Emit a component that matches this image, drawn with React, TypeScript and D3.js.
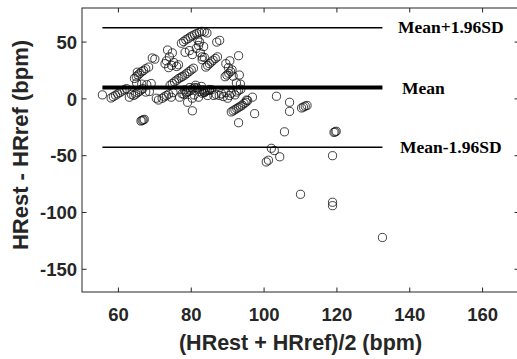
import React from "react";
import * as d3 from "d3";

// mean of the two HR estimates (x) and their difference (y), bpm
const meanHR: number[] = [
  55.6, 58.0, 58.6, 59.2, 59.8, 60.4, 61.0, 61.6, 62.2, 63.0, 63.6,
  64.2, 64.7, 65.2, 65.7, 66.2, 66.7, 67.5, 68.5, 69.0, 67.8, 66.4, 65.0,
  64.4, 64.9, 65.4, 65.9, 66.4, 66.9, 67.5, 68.3, 65.2, 69.3, 70.0,
  66.2, 66.5, 66.8, 67.1,
  70.4, 71.0, 72.0, 72.6, 73.2, 73.8, 74.5, 75.0,
  73.5, 74.8, 73.2, 72.8, 73.8, 74.6, 75.2, 74.0,
  74.2, 74.8, 75.4, 76.0, 76.6, 77.2, 77.6, 78.2, 78.8, 79.4, 80.0, 80.6, 76.0, 76.5,
  77.3, 77.9, 78.5, 79.1, 79.7, 80.3, 80.9, 81.5, 82.2, 82.9, 83.6, 84.3, 81.8, 82.3,
  78.3, 79.5, 80.3, 81.4, 82.5, 83.0, 82.0, 83.4,
  76.8, 77.5, 78.2, 78.8, 79.0, 79.6, 80.3, 80.8, 81.2, 81.6, 82.0, 82.3, 82.8, 83.2, 83.6, 84.0,
  84.5, 85.0, 85.6, 86.2, 86.8, 87.7, 88.3, 88.8, 89.5, 90.0, 90.5, 91.0, 92.0, 92.5, 93.0, 93.6,
  78.0, 78.6, 79.2, 79.8, 80.4, 81.0,
  83.0, 83.5, 84.0, 84.5, 85.0,
  84.0, 84.5, 85.0, 85.5, 86.0, 86.6, 87.2, 83.0, 83.6,
  87.0, 87.8,
  89.3, 89.8, 90.3, 90.8, 91.2, 90.2, 90.6, 89.5, 91.5,
  93.0, 93.2, 92.4, 93.5,
  91.0, 91.5, 92.0, 92.5, 93.0, 93.5, 94.0, 94.5, 95.0, 95.5, 95.2, 96.8, 97.4, 93.0, 80.3,
  103.4, 107.0, 107.0, 110.3, 110.8, 111.3, 111.8, 105.6, 119.2, 119.5, 119.8,
  102.0, 102.8, 101.2, 100.6, 104.3, 118.8, 110.0, 118.8, 118.8, 132.5,
];

const diffHR: number[] = [
  3.5, 0.8, 2.0, 3.2, 4.4, 5.6, 6.8, 8.0, 9.0, 1.5, 4.0,
  3.0, 4.2, 5.4, 6.6, 7.8, 9.0, 6.0, 6.5, 13.5, 12.5, 13.0, 14.0,
  18.0, 19.5, 21.0, 22.5, 24.0, 25.0, 26.5, 28.0, 23.5, 36.0, 35.0,
  -19.5, -19.0, -18.5, -18.0,
  0.6, -1.0, 0.5, 1.8, 3.0, 4.2, 1.5, 5.5,
  43.0, 40.5, 33.5, 31.0, 27.5, 29.5, 32.0, 37.0,
  12.0, 13.5, 15.0, 16.5, 18.0, 19.0, 19.8, 21.0, 22.5, 24.0, 25.5, 27.0, 28.5, 30.0,
  49.0, 50.5, 52.0, 53.0, 54.5, 55.5, 56.5, 57.5, 58.5, 59.5, 59.0, 58.0, 52.0, 50.0,
  41.0, 42.5, 39.0, 44.5, 40.5, 37.0, 47.0, 46.0,
  1.5, 4.5, 8.0, 6.0, -3.0, 10.0, 0.6, 3.5, 12.0, 9.5, 1.5, 6.5, 11.0, 8.0, 5.5, 7.0,
  3.0, 7.5, 8.0, 3.0, 4.0, 3.0, 4.5, 2.0, 5.5, 0.6, 3.0, 5.0, 3.5, 6.0, 7.5, 8.5,
  4.0, 5.2, 6.4, 7.6, 8.8, 10.0,
  5.0, 6.0, 6.8, 7.6, 8.3,
  28.0, 29.5, 31.0, 32.5, 34.0, 35.5, 37.0, 34.5, 36.5,
  50.0, 51.5,
  19.5, 21.0, 22.5, 24.0, 25.5, 27.5, 33.5, 31.0, 20.0,
  38.0, 21.0, 14.0, 13.0,
  -11.5, -10.5, -9.5, -8.5, -7.5, -6.5, -5.5, -4.0, -3.0, -1.5, -1.0, 1.5, -13.0, -21.0, -10.5,
  2.3, -3.0, -11.0, -8.0, -7.2, -6.4, -5.8, -29.0, -29.5, -29.0, -28.5,
  -43.5, -45.5, -54.0, -55.5, -51.0, -50.0, -84.0, -91.0, -94.0, -122.0,
];

const limitNames: string[] = ["Mean+1.96SD", "Mean", "Mean-1.96SD"];
const limitValues: number[] = [62.7, 10.0, -42.6];
const xTicks: number[] = [60, 80, 100, 120, 140, 160];
const yTicks: number[] = [-150, -100, -50, 0, 50];

const W = 517;
const H = 359;
const L = 82, T = 8, R = 519, B = 292;
const axisColor = "#262626";

export default function App() {
  const x = d3.scaleLinear().domain([50, 170]).range([L, R]);
  const y = d3.scaleLinear().domain([-170, 80]).range([B, T]);
  const ext = d3.extent(meanHR) as [number, number];
  const pts = meanHR.map((m, i) => [m, diffHR[i]]);
  const labelX = [398, 402, 400];
  const labelDy = [5, 6, 6];
  const tl = 4.5;

  return (
    <svg width={W} height={H} style={{ position: "absolute", left: 0, top: 0, background: "#fff" }}>
      <rect x={0} y={0} width={W} height={H} fill="#fff" />
      {/* points */}
      <g>
        {pts.map((p, i) => (
          <circle key={i} cx={x(p[0])} cy={y(p[1])} r={4.1} fill="none" stroke="#111" strokeWidth={0.8} />
        ))}
      </g>
      {/* limit lines */}
      {limitValues.map((v, i) => (
        <line key={i} x1={x(ext[0])} x2={x(ext[1])} y1={y(v)} y2={y(v)} stroke="#000" strokeWidth={i === 1 ? 4 : 1.5} />
      ))}
      {limitValues.map((v, i) => (
        <text key={"t" + i} x={labelX[i]} y={y(v) + labelDy[i]} fontFamily="'Liberation Serif', 'Times New Roman', serif" fontWeight="bold" fontSize={17.5} fill="#000">
          {limitNames[i]}
        </text>
      ))}
      {/* axes box */}
      <rect x={L} y={T} width={R - L} height={B - T} fill="none" stroke={axisColor} strokeWidth={1} />
      {xTicks.map((t) => (
        <g key={"x" + t}>
          <line x1={x(t)} x2={x(t)} y1={B} y2={B - tl} stroke={axisColor} />
          <line x1={x(t)} x2={x(t)} y1={T} y2={T + tl} stroke={axisColor} />
          <text x={x(t)} y={321} textAnchor="middle" fontFamily="'Liberation Sans', Arial, sans-serif" fontWeight="bold" fontSize={18.5} fill={axisColor}>
            {t}
          </text>
        </g>
      ))}
      {yTicks.map((t) => (
        <g key={"y" + t}>
          <line x1={L} x2={L + tl} y1={y(t)} y2={y(t)} stroke={axisColor} />
          <line x1={R} x2={R - tl} y1={y(t)} y2={y(t)} stroke={axisColor} />
          <text x={77} y={y(t)} dy="0.36em" textAnchor="end" fontFamily="'Liberation Sans', Arial, sans-serif" fontWeight="bold" fontSize={18.5} fill={axisColor}>
            {t}
          </text>
        </g>
      ))}
      <text x={(L + R) / 2} y={350} textAnchor="middle" fontFamily="'Liberation Sans', Arial, sans-serif" fontWeight="bold" fontSize={21.5} fill={axisColor}>
        (HRest + HRref)/2 (bpm)
      </text>
      <text transform={`translate(28, 145) rotate(-90)`} textAnchor="middle" fontFamily="'Liberation Sans', Arial, sans-serif" fontWeight="bold" fontSize={22} fill={axisColor}>
        HRest - HRref (bpm)
      </text>
    </svg>
  );
}
